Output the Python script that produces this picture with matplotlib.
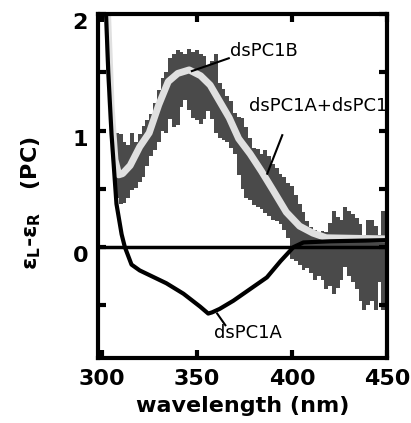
import matplotlib
matplotlib.use("Agg")
import matplotlib.pyplot as plt
from matplotlib.transforms import ScaledTranslation

# noisy summed spectrum (dsPC1A+dsPC1B), read as upper / lower envelope
wl_sum = list(range(306, 451, 2))
sum_upper = [0.95, 0.98, 0.97, 0.90, 0.88, 0.98, 0.90, 0.97, 1.04, 1.09, 1.14, 1.24,
             1.35, 1.45, 1.50, 1.62, 1.66, 1.69, 1.67, 1.66, 1.70, 1.67, 1.69, 1.66,
             1.64, 1.56, 1.60, 1.66, 1.41, 1.36, 1.30, 1.25, 1.15, 1.12, 1.11, 1.03,
             0.94, 0.85, 0.84, 0.80, 0.83, 0.78, 0.71, 0.68, 0.63, 0.60, 0.55, 0.52,
             0.45, 0.37, 0.30, 0.22, 0.17, 0.15, 0.12, 0.14, 0.13, 0.21, 0.31, 0.26,
             0.23, 0.34, 0.31, 0.28, 0.25, 0.20, 0.10, 0.23, 0.23, 0.18, 0.10, 0.31,
             0.31]
sum_lower = [0.55, 0.42, 0.37, 0.38, 0.42, 0.49, 0.51, 0.56, 0.60, 0.70, 0.78, 0.83,
             0.90, 1.00, 0.98, 1.10, 1.03, 1.05, 1.20, 1.26, 1.18, 1.11, 1.09, 1.06,
             1.10, 1.17, 1.10, 0.98, 0.94, 0.92, 0.90, 0.85, 0.80, 0.62, 0.50, 0.42,
             0.40, 0.36, 0.34, 0.33, 0.29, 0.27, 0.23, 0.22, 0.20, 0.15, 0.08, -0.10,
             -0.12, -0.15, -0.20, -0.18, -0.22, -0.28, -0.25, -0.28, -0.36, -0.33,
             -0.40, -0.35, -0.28, -0.17, -0.25, -0.30, -0.36, -0.46, -0.54, -0.50,
             -0.46, -0.54, -0.30, -0.54, -0.54]

# smoothed dsPC1B
wl_b = [303, 305, 307, 309, 311, 315, 320, 325, 330, 335, 340, 346, 352, 357, 362,
        367, 372, 378, 384, 390, 397, 404, 411, 418, 450]
cd_b = [2.05, 1.20, 0.75, 0.62, 0.63, 0.70, 0.86, 0.98, 1.22, 1.42, 1.49, 1.52,
        1.47, 1.39, 1.25, 1.11, 0.93, 0.80, 0.65, 0.49, 0.30, 0.18, 0.12, 0.08, 0.07]

# dsPC1A
wl_a = [302.2, 303.5, 305.2, 307.8, 310.5, 312.2, 315.7, 320, 334, 343, 351.7, 356,
        358, 362, 369.2, 378, 386.8, 394, 400.8, 406, 420, 450]
cd_a = [2.05, 1.50, 0.97, 0.37, 0.11, 0.00, -0.15, -0.20, -0.31, -0.40, -0.51,
        -0.57, -0.56, -0.53, -0.46, -0.36, -0.26, -0.12, 0.00, 0.04, 0.05, 0.06]

fig = plt.figure(figsize=(4.11, 4.23), dpi=100)
ax = fig.add_axes([0.238, 0.154, 0.704, 0.813])

ax.fill_between(wl_sum, sum_lower, sum_upper, step="mid", color="#4a4a4a",
                linewidth=0, zorder=1)
ax.plot(wl_b, cd_b, color="#e0e0e0", linewidth=5, solid_capstyle="butt", zorder=2)
ax.axhline(0, color="black", linewidth=2.5, zorder=3)
ax.plot(wl_a, cd_a, color="black", linewidth=3, zorder=4)

ax.set_xlim(298, 450)
ax.set_ylim(-0.95, 2.0)
ax.set_xticks([300, 350, 400, 450])
ax.set_yticks([-0.5, 0, 0.5, 1, 1.5, 2])
ax.set_yticklabels(["", "0", "", "1", "", "2"])

for s in ax.spines.values():
    s.set_linewidth(3)
ax.tick_params(direction="in", length=6, width=3, top=True, right=True,
               labelsize=16)
ax.tick_params(axis="x", pad=8)
ax.tick_params(axis="y", pad=7)
shift = ScaledTranslation(0, -0.07, fig.dpi_scale_trans)
for lab in ax.get_yticklabels():
    lab.set_transform(lab.get_transform() + shift)
for lab in ax.get_xticklabels() + ax.get_yticklabels():
    lab.set_fontweight("bold")

ax.set_xlabel("wavelength (nm)", fontsize=16, fontweight="bold", labelpad=5)
ax.set_ylabel("ε$_\\mathbf{L}$-ε$_\\mathbf{R}$   (PC)", fontsize=16,
              fontweight="bold")
ax.yaxis.set_label_coords(-0.19, 0.45)

# annotations
ax.plot([347.4, 366.8], [1.51, 1.62], color="black", linewidth=1.5, zorder=5)
ax.text(367.5, 1.68, "dsPC1B", fontsize=13, va="center", ha="left")
ax.plot([394.9, 387.0], [0.96, 0.63], color="black", linewidth=1.5, zorder=5)
ax.text(377.4, 1.21, "dsPC1A+dsPC1B", fontsize=13, va="center", ha="left",
        clip_on=True)
ax.plot([360.7, 365.0], [-0.57, -0.67], color="black", linewidth=1.5, zorder=5)
ax.text(359.0, -0.74, "dsPC1A", fontsize=13, va="center", ha="left")

fig.savefig("out.png", dpi=100)
